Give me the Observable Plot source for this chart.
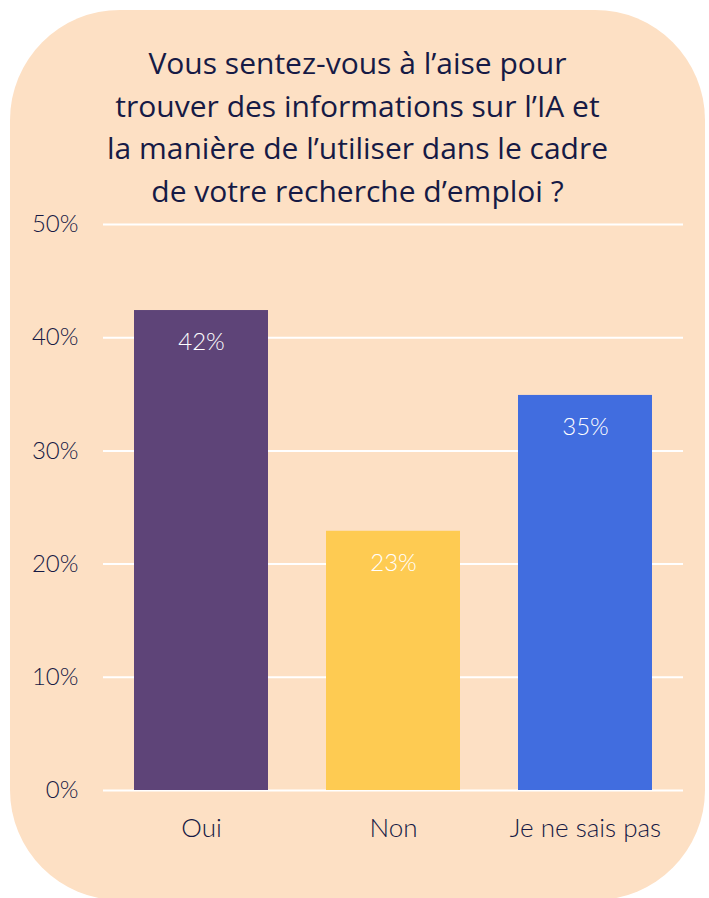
<!DOCTYPE html>
<html>
<head>
<meta charset="utf-8">
<script src="https://cdn.jsdelivr.net/npm/d3@7"></script>
<script src="https://cdn.jsdelivr.net/npm/@observablehq/plot@0.6"></script>
<style>
  html, body { margin: 0; padding: 0; background: #ffffff; }
  #page { position: relative; width: 709px; height: 898px; overflow: hidden; background: #ffffff; }
  #card { position: absolute; left: 10px; top: 10px; width: 695px; height: 890px; background: #fde0c4; border-radius: 110px; }
  #title { position: absolute; left: 10px; width: 695px; top: 42px; text-align: center; font-family: "Open Sans", Lato, sans-serif; font-size: 30px; font-weight: 400; line-height: 42.5px; color: #161a45; }
  #chart { position: absolute; left: 0; top: 200px; }
</style>
</head>
<body>
<div id="page">
  <div id="card"></div>
  <div id="title">Vous sentez-vous à l’aise pour<br>trouver des informations sur l’IA et<br>la manière de l’utiliser dans le cadre<br>de votre recherche d’emploi ?</div>
  <div id="chart"></div>
</div>
<script>
const categories = ["Oui", "Non", "Je ne sais pas"];
const values = [42.4, 22.9, 34.9];
const valueLabels = ["42%", "23%", "35%"];
const colors = ["#5e4478", "#fecb52", "#416ddf"];
const yTicks = [0, 10, 20, 30, 40, 50];
const yTickLabels = ["0%", "10%", "20%", "30%", "40%", "50%"];

const data = categories.map((c, i) => ({category: c, value: values[i], label: valueLabels[i], color: colors[i]}));

const chart = Plot.plot({
  width: 709,
  height: 660,
  marginTop: 24,
  marginBottom: 70,
  marginLeft: 103,
  marginRight: 26,
  style: {background: "transparent", fontFamily: "Lato, 'Open Sans', sans-serif", fontSize: "24px", color: "#161a45", overflow: "visible"},
  x: {domain: categories, paddingInner: 0.3, paddingOuter: 0.156, label: null, tickSize: 0, tickPadding: 30},
  y: {domain: [0, 50], ticks: yTicks, tickFormat: (d) => yTickLabels[yTicks.indexOf(d)], label: null, tickSize: 0, tickPadding: 25},
  marks: [
    Plot.gridY(yTicks, {stroke: "#ffffff", strokeOpacity: 1, strokeWidth: 2}),
    Plot.barY(data, {x: "category", y: "value", fill: "color"}),
    Plot.text(data, {x: "category", y: "value", text: "label", fill: "#ffffff", dy: 32, fontSize: 24, fontWeight: 300}),
    Plot.axisY({ticks: yTicks, tickFormat: (d) => yTickLabels[yTicks.indexOf(d)], tickSize: 0, tickPadding: 25, fontSize: 24, fontWeight: 300, fill: "#161a45", label: null}),
    Plot.axisX({tickSize: 0, tickPadding: 28, fontSize: 26, fontWeight: 300, fill: "#161a45", label: null})
  ]
});
document.getElementById("chart").appendChild(chart);
</script>
</body>
</html>
